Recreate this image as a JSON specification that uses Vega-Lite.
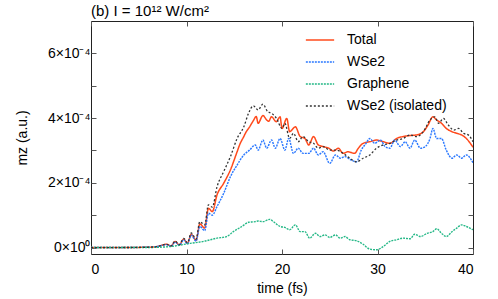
{
  "$schema": "https://vega.github.io/schema/vega-lite/v6.json",
  "width": 382,
  "height": 233,
  "autosize": "none",
  "padding": {"left": 91, "top": 21, "right": 25, "bottom": 45},
  "config": {
    "font": "Liberation Sans",
    "view": {"stroke": "#222222", "strokeWidth": 1},
    "axis": {"grid": false, "domain": false, "tickColor": "#555555", "labelColor": "#000000", "titleColor": "#000000", "labelFont": "Liberation Sans", "titleFont": "Liberation Sans", "labelFontSize": 14, "titleFontSize": 14, "titleFontWeight": "normal"},
    "legend": {"labelFont": "Liberation Sans", "labelFontSize": 14, "labelColor": "#000000"}
  },
  "title": {"text": "(b) I = 10¹² W/cm²", "anchor": "start", "frame": "group", "fontSize": 15, "fontWeight": "normal", "font": "Liberation Sans", "offset": 2, "color": "#000000"},
  "datasets": {
    "d": [
      {"t": 0, "v": 0, "s": "Total"}, {"t": 3, "v": 0, "s": "Total"}, {"t": 6, "v": 0.01e-4, "s": "Total"}, {"t": 6.9, "v": 0.03e-4, "s": "Total"}, {"t": 7.9, "v": 0.1e-4, "s": "Total"}, {"t": 8.4, "v": 0.05e-4, "s": "Total"}, {"t": 8.8, "v": 0.19e-4, "s": "Total"}, {"t": 9.25, "v": 0.08e-4, "s": "Total"}, {"t": 9.7, "v": 0.26e-4, "s": "Total"}, {"t": 10.1, "v": 0.13e-4, "s": "Total"}, {"t": 10.5, "v": 0.41e-4, "s": "Total"}, {"t": 11.0, "v": 0.22e-4, "s": "Total"}, {"t": 11.4, "v": 0.73e-4, "s": "Total"}, {"t": 11.9, "v": 0.6e-4, "s": "Total"}, {"t": 12.3, "v": 1.21e-4, "s": "Total"}, {"t": 12.7, "v": 1.11e-4, "s": "Total"}, {"t": 13.2, "v": 1.63e-4, "s": "Total"}, {"t": 13.9, "v": 1.99e-4, "s": "Total"}, {"t": 14.6, "v": 2.4e-4, "s": "Total"}, {"t": 15.3, "v": 2.96e-4, "s": "Total"}, {"t": 15.6, "v": 3.2e-4, "s": "Total"}, {"t": 16.0, "v": 3.43e-4, "s": "Total"}, {"t": 16.3, "v": 3.6e-4, "s": "Total"}, {"t": 16.5, "v": 3.68e-4, "s": "Total"}, {"t": 17.0, "v": 3.92e-4, "s": "Total"}, {"t": 17.3, "v": 4.05e-4, "s": "Total"}, {"t": 17.5, "v": 3.84e-4, "s": "Total"}, {"t": 18.0, "v": 4.08e-4, "s": "Total"}, {"t": 18.4, "v": 3.94e-4, "s": "Total"}, {"t": 18.6, "v": 3.9e-4, "s": "Total"}, {"t": 18.9, "v": 4.04e-4, "s": "Total"}, {"t": 19.4, "v": 3.89e-4, "s": "Total"}, {"t": 19.8, "v": 4.04e-4, "s": "Total"}, {"t": 20.0, "v": 3.68e-4, "s": "Total"}, {"t": 20.5, "v": 3.99e-4, "s": "Total"}, {"t": 20.8, "v": 3.58e-4, "s": "Total"}, {"t": 21.4, "v": 3.73e-4, "s": "Total"}, {"t": 21.9, "v": 3.43e-4, "s": "Total"}, {"t": 22.4, "v": 3.37e-4, "s": "Total"}, {"t": 22.8, "v": 3.17e-4, "s": "Total"}, {"t": 23.3, "v": 3.43e-4, "s": "Total"}, {"t": 23.8, "v": 3.17e-4, "s": "Total"}, {"t": 24.3, "v": 3.12e-4, "s": "Total"}, {"t": 24.9, "v": 3.07e-4, "s": "Total"}, {"t": 25.4, "v": 2.98e-4, "s": "Total"}, {"t": 25.9, "v": 3.07e-4, "s": "Total"}, {"t": 26.4, "v": 2.91e-4, "s": "Total"}, {"t": 26.9, "v": 2.96e-4, "s": "Total"}, {"t": 27.6, "v": 2.91e-4, "s": "Total"}, {"t": 28.0, "v": 3.07e-4, "s": "Total"}, {"t": 28.5, "v": 3.22e-4, "s": "Total"}, {"t": 29.2, "v": 3.27e-4, "s": "Total"}, {"t": 29.9, "v": 3.32e-4, "s": "Total"}, {"t": 30.6, "v": 3.27e-4, "s": "Total"}, {"t": 31.3, "v": 3.22e-4, "s": "Total"}, {"t": 32.0, "v": 3.37e-4, "s": "Total"}, {"t": 32.7, "v": 3.43e-4, "s": "Total"}, {"t": 33.4, "v": 3.46e-4, "s": "Total"}, {"t": 34.1, "v": 3.48e-4, "s": "Total"}, {"t": 34.8, "v": 3.58e-4, "s": "Total"}, {"t": 35.3, "v": 3.79e-4, "s": "Total"}, {"t": 35.8, "v": 4.04e-4, "s": "Total"}, {"t": 36.2, "v": 3.94e-4, "s": "Total"}, {"t": 36.7, "v": 3.84e-4, "s": "Total"}, {"t": 37.2, "v": 3.68e-4, "s": "Total"}, {"t": 37.8, "v": 3.58e-4, "s": "Total"}, {"t": 38.3, "v": 3.53e-4, "s": "Total"}, {"t": 38.8, "v": 3.48e-4, "s": "Total"}, {"t": 39.3, "v": 3.37e-4, "s": "Total"}, {"t": 40.0, "v": 3.1e-4, "s": "Total"},

      {"t": 0, "v": 0, "s": "WSe2"}, {"t": 3, "v": 0, "s": "WSe2"}, {"t": 6, "v": 0.01e-4, "s": "WSe2"}, {"t": 6.9, "v": 0.03e-4, "s": "WSe2"}, {"t": 7.9, "v": 0.09e-4, "s": "WSe2"}, {"t": 8.4, "v": 0.04e-4, "s": "WSe2"}, {"t": 8.8, "v": 0.17e-4, "s": "WSe2"}, {"t": 9.25, "v": 0.07e-4, "s": "WSe2"}, {"t": 9.7, "v": 0.24e-4, "s": "WSe2"}, {"t": 10.1, "v": 0.11e-4, "s": "WSe2"}, {"t": 10.5, "v": 0.38e-4, "s": "WSe2"}, {"t": 11.0, "v": 0.2e-4, "s": "WSe2"}, {"t": 11.4, "v": 0.65e-4, "s": "WSe2"}, {"t": 11.9, "v": 0.52e-4, "s": "WSe2"}, {"t": 12.3, "v": 1.06e-4, "s": "WSe2"}, {"t": 12.7, "v": 1.0e-4, "s": "WSe2"}, {"t": 13.2, "v": 1.27e-4, "s": "WSe2"}, {"t": 13.9, "v": 1.68e-4, "s": "WSe2"}, {"t": 14.6, "v": 2.19e-4, "s": "WSe2"}, {"t": 15.3, "v": 2.55e-4, "s": "WSe2"}, {"t": 16.0, "v": 2.86e-4, "s": "WSe2"}, {"t": 16.6, "v": 3.01e-4, "s": "WSe2"}, {"t": 17.2, "v": 3.17e-4, "s": "WSe2"}, {"t": 17.5, "v": 3.01e-4, "s": "WSe2"}, {"t": 18.0, "v": 3.32e-4, "s": "WSe2"}, {"t": 18.4, "v": 3.07e-4, "s": "WSe2"}, {"t": 18.9, "v": 3.32e-4, "s": "WSe2"}, {"t": 19.3, "v": 3.07e-4, "s": "WSe2"}, {"t": 19.8, "v": 3.37e-4, "s": "WSe2"}, {"t": 20.3, "v": 3.01e-4, "s": "WSe2"}, {"t": 20.7, "v": 3.37e-4, "s": "WSe2"}, {"t": 21.2, "v": 2.91e-4, "s": "WSe2"}, {"t": 21.7, "v": 3.07e-4, "s": "WSe2"}, {"t": 22.2, "v": 2.91e-4, "s": "WSe2"}, {"t": 22.8, "v": 2.91e-4, "s": "WSe2"}, {"t": 23.3, "v": 3.07e-4, "s": "WSe2"}, {"t": 23.8, "v": 2.86e-4, "s": "WSe2"}, {"t": 24.3, "v": 2.96e-4, "s": "WSe2"}, {"t": 25.0, "v": 2.6e-4, "s": "WSe2"}, {"t": 25.6, "v": 2.86e-4, "s": "WSe2"}, {"t": 26.1, "v": 2.76e-4, "s": "WSe2"}, {"t": 26.6, "v": 2.81e-4, "s": "WSe2"}, {"t": 27.2, "v": 2.71e-4, "s": "WSe2"}, {"t": 27.8, "v": 2.65e-4, "s": "WSe2"}, {"t": 28.3, "v": 3.01e-4, "s": "WSe2"}, {"t": 28.8, "v": 3.22e-4, "s": "WSe2"}, {"t": 29.2, "v": 3.37e-4, "s": "WSe2"}, {"t": 29.7, "v": 3.22e-4, "s": "WSe2"}, {"t": 30.3, "v": 3.32e-4, "s": "WSe2"}, {"t": 30.8, "v": 3.12e-4, "s": "WSe2"}, {"t": 31.3, "v": 3.07e-4, "s": "WSe2"}, {"t": 31.8, "v": 3.32e-4, "s": "WSe2"}, {"t": 32.4, "v": 3.12e-4, "s": "WSe2"}, {"t": 32.9, "v": 3.27e-4, "s": "WSe2"}, {"t": 33.4, "v": 3.07e-4, "s": "WSe2"}, {"t": 33.9, "v": 3.32e-4, "s": "WSe2"}, {"t": 34.5, "v": 3.07e-4, "s": "WSe2"}, {"t": 35.0, "v": 3.12e-4, "s": "WSe2"}, {"t": 35.5, "v": 3.37e-4, "s": "WSe2"}, {"t": 35.8, "v": 3.68e-4, "s": "WSe2"}, {"t": 36.2, "v": 3.37e-4, "s": "WSe2"}, {"t": 36.7, "v": 3.37e-4, "s": "WSe2"}, {"t": 37.2, "v": 3.01e-4, "s": "WSe2"}, {"t": 37.8, "v": 2.76e-4, "s": "WSe2"}, {"t": 38.3, "v": 2.86e-4, "s": "WSe2"}, {"t": 38.8, "v": 2.76e-4, "s": "WSe2"}, {"t": 39.3, "v": 2.86e-4, "s": "WSe2"}, {"t": 40.0, "v": 2.62e-4, "s": "WSe2"},

      {"t": 0, "v": 0, "s": "Graphene"}, {"t": 6, "v": 0, "s": "Graphene"}, {"t": 7.2, "v": 0.01e-4, "s": "Graphene"}, {"t": 8.3, "v": 0.03e-4, "s": "Graphene"}, {"t": 10.4, "v": 0.13e-4, "s": "Graphene"}, {"t": 11.8, "v": 0.19e-4, "s": "Graphene"}, {"t": 13.2, "v": 0.29e-4, "s": "Graphene"}, {"t": 14.2, "v": 0.34e-4, "s": "Graphene"}, {"t": 14.9, "v": 0.49e-4, "s": "Graphene"}, {"t": 15.8, "v": 0.65e-4, "s": "Graphene"}, {"t": 16.5, "v": 0.78e-4, "s": "Graphene"}, {"t": 17.2, "v": 0.8e-4, "s": "Graphene"}, {"t": 17.5, "v": 0.82e-4, "s": "Graphene"}, {"t": 18.0, "v": 0.8e-4, "s": "Graphene"}, {"t": 18.7, "v": 0.87e-4, "s": "Graphene"}, {"t": 19.1, "v": 0.8e-4, "s": "Graphene"}, {"t": 19.8, "v": 0.65e-4, "s": "Graphene"}, {"t": 20.3, "v": 0.62e-4, "s": "Graphene"}, {"t": 20.8, "v": 0.55e-4, "s": "Graphene"}, {"t": 21.4, "v": 0.7e-4, "s": "Graphene"}, {"t": 21.9, "v": 0.49e-4, "s": "Graphene"}, {"t": 22.4, "v": 0.49e-4, "s": "Graphene"}, {"t": 22.9, "v": 0.29e-4, "s": "Graphene"}, {"t": 23.5, "v": 0.44e-4, "s": "Graphene"}, {"t": 24.0, "v": 0.34e-4, "s": "Graphene"}, {"t": 24.5, "v": 0.39e-4, "s": "Graphene"}, {"t": 25.0, "v": 0.31e-4, "s": "Graphene"}, {"t": 25.6, "v": 0.39e-4, "s": "Graphene"}, {"t": 26.1, "v": 0.29e-4, "s": "Graphene"}, {"t": 26.6, "v": 0.34e-4, "s": "Graphene"}, {"t": 27.1, "v": 0.24e-4, "s": "Graphene"}, {"t": 27.8, "v": 0.21e-4, "s": "Graphene"}, {"t": 28.5, "v": 0.1e-4, "s": "Graphene"}, {"t": 29.2, "v": -0.05e-4, "s": "Graphene"}, {"t": 29.9, "v": -0.07e-4, "s": "Graphene"}, {"t": 30.6, "v": 0.03e-4, "s": "Graphene"}, {"t": 31.3, "v": 0.19e-4, "s": "Graphene"}, {"t": 32.0, "v": 0.24e-4, "s": "Graphene"}, {"t": 32.7, "v": 0.29e-4, "s": "Graphene"}, {"t": 33.4, "v": 0.27e-4, "s": "Graphene"}, {"t": 33.9, "v": 0.41e-4, "s": "Graphene"}, {"t": 34.5, "v": 0.34e-4, "s": "Graphene"}, {"t": 35.2, "v": 0.44e-4, "s": "Graphene"}, {"t": 35.8, "v": 0.49e-4, "s": "Graphene"}, {"t": 36.2, "v": 0.58e-4, "s": "Graphene"}, {"t": 36.7, "v": 0.44e-4, "s": "Graphene"}, {"t": 37.2, "v": 0.34e-4, "s": "Graphene"}, {"t": 37.8, "v": 0.49e-4, "s": "Graphene"}, {"t": 38.3, "v": 0.6e-4, "s": "Graphene"}, {"t": 38.8, "v": 0.7e-4, "s": "Graphene"}, {"t": 39.3, "v": 0.65e-4, "s": "Graphene"}, {"t": 40.0, "v": 0.55e-4, "s": "Graphene"},

      {"t": 0, "v": 0, "s": "WSe2 (isolated)"}, {"t": 3, "v": 0, "s": "WSe2 (isolated)"}, {"t": 6, "v": 0.01e-4, "s": "WSe2 (isolated)"}, {"t": 6.9, "v": 0.03e-4, "s": "WSe2 (isolated)"}, {"t": 7.9, "v": 0.1e-4, "s": "WSe2 (isolated)"}, {"t": 8.4, "v": 0.05e-4, "s": "WSe2 (isolated)"}, {"t": 8.8, "v": 0.2e-4, "s": "WSe2 (isolated)"}, {"t": 9.25, "v": 0.09e-4, "s": "WSe2 (isolated)"}, {"t": 9.7, "v": 0.28e-4, "s": "WSe2 (isolated)"}, {"t": 10.1, "v": 0.15e-4, "s": "WSe2 (isolated)"}, {"t": 10.5, "v": 0.45e-4, "s": "WSe2 (isolated)"}, {"t": 11.0, "v": 0.26e-4, "s": "WSe2 (isolated)"}, {"t": 11.4, "v": 0.8e-4, "s": "WSe2 (isolated)"}, {"t": 11.9, "v": 0.7e-4, "s": "WSe2 (isolated)"}, {"t": 12.3, "v": 1.32e-4, "s": "WSe2 (isolated)"}, {"t": 12.7, "v": 1.25e-4, "s": "WSe2 (isolated)"}, {"t": 13.2, "v": 1.88e-4, "s": "WSe2 (isolated)"}, {"t": 13.9, "v": 2.35e-4, "s": "WSe2 (isolated)"}, {"t": 14.6, "v": 2.81e-4, "s": "WSe2 (isolated)"}, {"t": 15.3, "v": 3.37e-4, "s": "WSe2 (isolated)"}, {"t": 16.0, "v": 3.73e-4, "s": "WSe2 (isolated)"}, {"t": 16.5, "v": 4.15e-4, "s": "WSe2 (isolated)"}, {"t": 17.0, "v": 4.38e-4, "s": "WSe2 (isolated)"}, {"t": 17.5, "v": 4.25e-4, "s": "WSe2 (isolated)"}, {"t": 18.0, "v": 4.43e-4, "s": "WSe2 (isolated)"}, {"t": 18.5, "v": 4.2e-4, "s": "WSe2 (isolated)"}, {"t": 18.9, "v": 4.15e-4, "s": "WSe2 (isolated)"}, {"t": 19.4, "v": 4.0e-4, "s": "WSe2 (isolated)"}, {"t": 20.0, "v": 3.68e-4, "s": "WSe2 (isolated)"}, {"t": 20.3, "v": 3.84e-4, "s": "WSe2 (isolated)"}, {"t": 20.8, "v": 3.37e-4, "s": "WSe2 (isolated)"}, {"t": 21.2, "v": 3.53e-4, "s": "WSe2 (isolated)"}, {"t": 21.7, "v": 3.27e-4, "s": "WSe2 (isolated)"}, {"t": 22.2, "v": 3.43e-4, "s": "WSe2 (isolated)"}, {"t": 22.8, "v": 3.27e-4, "s": "WSe2 (isolated)"}, {"t": 23.3, "v": 3.22e-4, "s": "WSe2 (isolated)"}, {"t": 23.8, "v": 3.07e-4, "s": "WSe2 (isolated)"}, {"t": 24.3, "v": 3.12e-4, "s": "WSe2 (isolated)"}, {"t": 25.0, "v": 3.01e-4, "s": "WSe2 (isolated)"}, {"t": 25.7, "v": 3.01e-4, "s": "WSe2 (isolated)"}, {"t": 26.4, "v": 2.91e-4, "s": "WSe2 (isolated)"}, {"t": 27.1, "v": 2.76e-4, "s": "WSe2 (isolated)"}, {"t": 27.8, "v": 2.65e-4, "s": "WSe2 (isolated)"}, {"t": 28.5, "v": 2.76e-4, "s": "WSe2 (isolated)"}, {"t": 29.2, "v": 2.86e-4, "s": "WSe2 (isolated)"}, {"t": 29.9, "v": 3.07e-4, "s": "WSe2 (isolated)"}, {"t": 30.6, "v": 3.17e-4, "s": "WSe2 (isolated)"}, {"t": 31.3, "v": 3.22e-4, "s": "WSe2 (isolated)"}, {"t": 32.0, "v": 3.32e-4, "s": "WSe2 (isolated)"}, {"t": 32.7, "v": 3.37e-4, "s": "WSe2 (isolated)"}, {"t": 33.4, "v": 3.48e-4, "s": "WSe2 (isolated)"}, {"t": 34.1, "v": 3.43e-4, "s": "WSe2 (isolated)"}, {"t": 34.8, "v": 3.58e-4, "s": "WSe2 (isolated)"}, {"t": 35.5, "v": 3.94e-4, "s": "WSe2 (isolated)"}, {"t": 36.0, "v": 4.04e-4, "s": "WSe2 (isolated)"}, {"t": 36.4, "v": 3.84e-4, "s": "WSe2 (isolated)"}, {"t": 36.9, "v": 3.99e-4, "s": "WSe2 (isolated)"}, {"t": 37.4, "v": 3.79e-4, "s": "WSe2 (isolated)"}, {"t": 38.0, "v": 3.63e-4, "s": "WSe2 (isolated)"}, {"t": 38.5, "v": 3.68e-4, "s": "WSe2 (isolated)"}, {"t": 39.0, "v": 3.53e-4, "s": "WSe2 (isolated)"}, {"t": 39.5, "v": 3.48e-4, "s": "WSe2 (isolated)"}, {"t": 40.0, "v": 3.27e-4, "s": "WSe2 (isolated)"}
    ]
  },
  "data": {"name": "d"},
  "layer": [
    {
      "mark": {"type": "line", "clip": true, "interpolate": "monotone"},
      "encoding": {
        "x": {"field": "t", "type": "quantitative", "scale": {"domain": [0, 40], "nice": false, "zero": false},
              "axis": {"orient": "bottom", "values": [0, 10, 20, 30, 40], "tickSize": -5, "labelPadding": 13, "title": "time (fs)", "titlePadding": 5}},
        "y": {"field": "v", "type": "quantitative", "scale": {"domain": [-0.00002, 0.0007], "nice": false, "zero": false},
              "axis": {"orient": "left", "values": [0, 0.0001, 0.0002, 0.0003, 0.0004, 0.0005, 0.0006], "tickSize": -5, "labelPadding": 6,
                       "labelExpr": "datum.value == 0 ? '0×10⁰' : datum.value == 0.0002 ? '2×10⁻⁴' : datum.value == 0.0004 ? '4×10⁻⁴' : datum.value == 0.0006 ? '6×10⁻⁴' : ''",
                       "title": "mz (a.u.)", "titlePadding": 18}},
        "color": {"field": "s", "type": "nominal", "sort": ["Total", "WSe2", "Graphene", "WSe2 (isolated)"],
                  "scale": {"domain": ["Total", "WSe2", "Graphene", "WSe2 (isolated)"], "range": ["#ff4a1c", "#2a78ff", "#25b887", "#333333"]},
                  "legend": {"title": null, "orient": "none", "legendX": 214, "legendY": 4, "symbolType": "stroke", "symbolSize": 800, "symbolStrokeWidth": 1.2, "rowPadding": 0, "labelOffset": 12}},
        "strokeDash": {"field": "s", "type": "nominal",
                  "scale": {"domain": ["Total", "WSe2", "Graphene", "WSe2 (isolated)"], "range": [[1, 0], [2, 1], [2, 1], [2, 2]]}, "legend": null},
        "strokeWidth": {"field": "s", "type": "nominal",
                  "scale": {"domain": ["Total", "WSe2", "Graphene", "WSe2 (isolated)"], "range": [1.5, 1.3, 1.2, 0.8]}, "legend": null}
      }
    },
    {
      "mark": {"type": "point", "opacity": 0},
      "encoding": {
        "x": {"field": "t", "type": "quantitative", "scale": {"domain": [0, 40], "nice": false, "zero": false},
              "axis": {"orient": "top", "values": [0, 10, 20, 30, 40], "tickSize": -5, "labels": false, "title": null}},
        "y": {"field": "v", "type": "quantitative", "scale": {"domain": [-0.00002, 0.0007], "nice": false, "zero": false},
              "axis": {"orient": "right", "values": [0, 0.0001, 0.0002, 0.0003, 0.0004, 0.0005, 0.0006], "tickSize": -5, "labels": false, "title": null}}
      }
    }
  ],
  "resolve": {"axis": {"x": "independent", "y": "independent"}}
}
